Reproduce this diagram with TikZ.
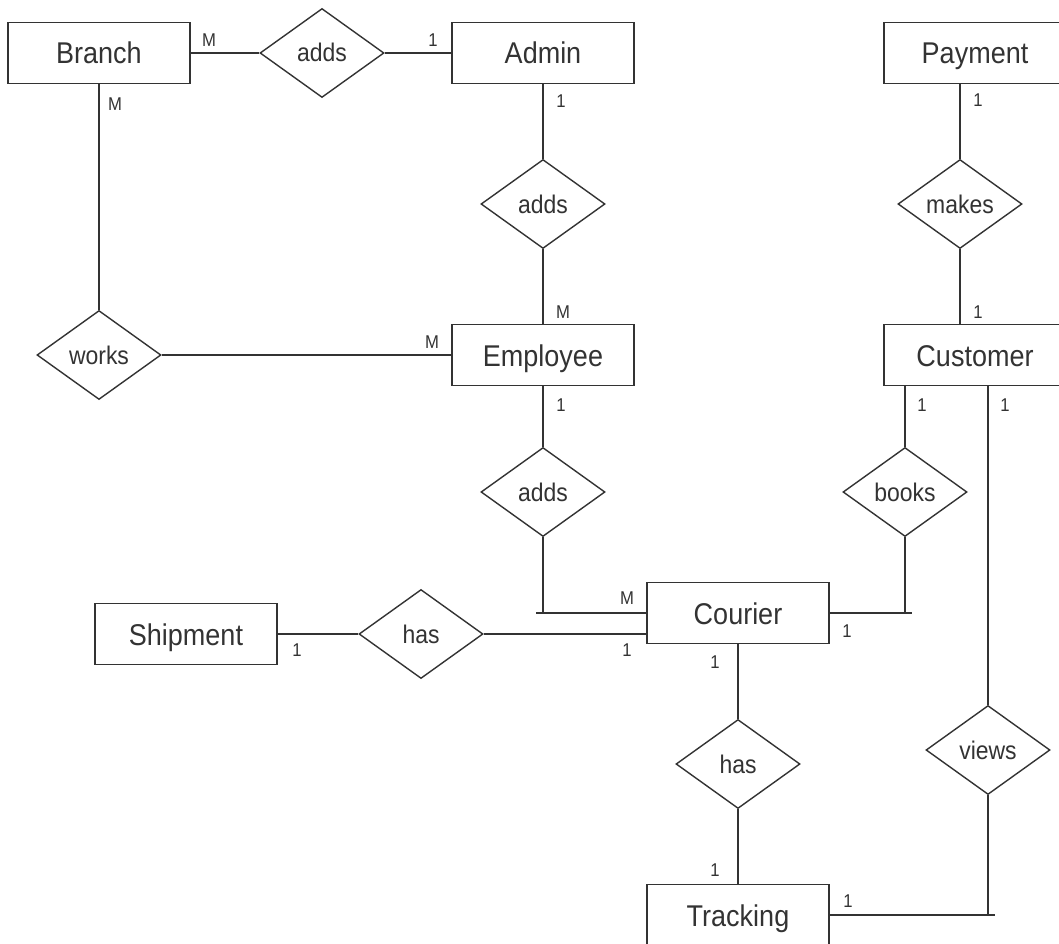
\documentclass[tikz,border=0pt]{standalone}
\usepackage{fontspec}
\setmainfont{Liberation Sans}[FakeStretch=0.9]
\usetikzlibrary{shapes.geometric}
\definecolor{ink}{HTML}{333333}
\begin{document}
\begin{tikzpicture}[x=1pt,y=-1pt,
  entity/.style={draw=ink,line width=1.4pt,minimum width=182pt,minimum height=61pt,
    inner sep=0pt,text=ink,text height=22pt,text depth=0pt,font=\fontsize{30}{32}\selectfont},
  rel/.style={draw=ink,line width=1.4pt,diamond,minimum width=124pt,minimum height=89pt,
    inner sep=0pt,text=ink,text height=18pt,text depth=0pt,font=\fontsize{25.5}{27}\selectfont},
  conn/.style={draw=ink,line width=1.4pt},
  card/.style={text=ink,inner sep=0pt,font=\fontsize{18.5}{20}\selectfont}]
\useasboundingbox (0,0) rectangle (1059,944);
\fill[white] (0,0) rectangle (1059,944);

% entities
\node[entity] (branch)   at (99,53)   {Branch};
\node[entity] (admin)    at (543,53)  {Admin};
\node[entity] (payment)  at (975,53)  {Payment};
\node[entity] (employee) at (543,355) {Employee};
\node[entity] (customer) at (975,355) {Customer};
\node[entity] (courier)  at (738,613) {Courier};
\node[entity] (shipment) at (186,634) {Shipment};
\node[entity] (tracking) at (738,915) {Tracking};

% relationships
\node[rel] (adds1) at (322,53)  {adds};
\node[rel] (adds2) at (543,204) {adds};
\node[rel] (adds3) at (543,492) {adds};
\node[rel] (works) at (99,355)  {works};
\node[rel] (makes) at (960,204) {makes};
\node[rel] (books) at (905,492) {books};
\node[rel] (has1)  at (421,634) {has};
\node[rel] (has2)  at (738,764) {has};
\node[rel] (views) at (988,750) {views};

% connectors
\draw[conn] (branch.east) -- (adds1.west);
\draw[conn] (adds1.east) -- (admin.west);
\draw[conn] (branch.south) -- (works.north);
\draw[conn] (admin.south) -- (adds2.north);
\draw[conn] (adds2.south) -- (employee.north);
\draw[conn] (works.east) -- (employee.west);
\draw[conn] (employee.south) -- (adds3.north);
\coordinate (c1) at (adds3.south |- courier.west);
\draw[conn] (adds3.south) -- (c1);
\draw[conn] ([xshift=-7pt]c1) -- (courier.west);
\draw[conn] (shipment.east) -- (has1.west);
\draw[conn] (has1.east) -- (has1.east -| courier.west);
\draw[conn] (courier.south) -- (has2.north);
\draw[conn] (has2.south) -- (tracking.north);
\draw[conn] (makes.north |- payment.south) -- (makes.north);
\draw[conn] (makes.south) -- (makes.south |- customer.north);
\draw[conn] (books.north |- customer.south) -- (books.north);
\coordinate (c2) at (books.south |- courier.east);
\draw[conn] (books.south) -- (c2);
\draw[conn] (courier.east) -- ([xshift=7pt]c2);
\draw[conn] (views.north |- customer.south) -- (views.north);
\coordinate (c3) at (views.south |- tracking.east);
\draw[conn] (views.south) -- (c3);
\draw[conn] (tracking.east) -- ([xshift=7pt]c3);

% cardinalities
\node[card] at (209,40)  {M};
\node[card] at (433,40)  {1};
\node[card] at (115,104) {M};
\node[card] at (561,101) {1};
\node[card] at (563,312) {M};
\node[card] at (432,342) {M};
\node[card] at (561,405) {1};
\node[card] at (627,598) {M};
\node[card] at (297,650) {1};
\node[card] at (627,650) {1};
\node[card] at (847,631) {1};
\node[card] at (715,662) {1};
\node[card] at (715,870) {1};
\node[card] at (848,901) {1};
\node[card] at (978,100) {1};
\node[card] at (978,312) {1};
\node[card] at (922,405) {1};
\node[card] at (1005,405) {1};
\end{tikzpicture}
\end{document}
